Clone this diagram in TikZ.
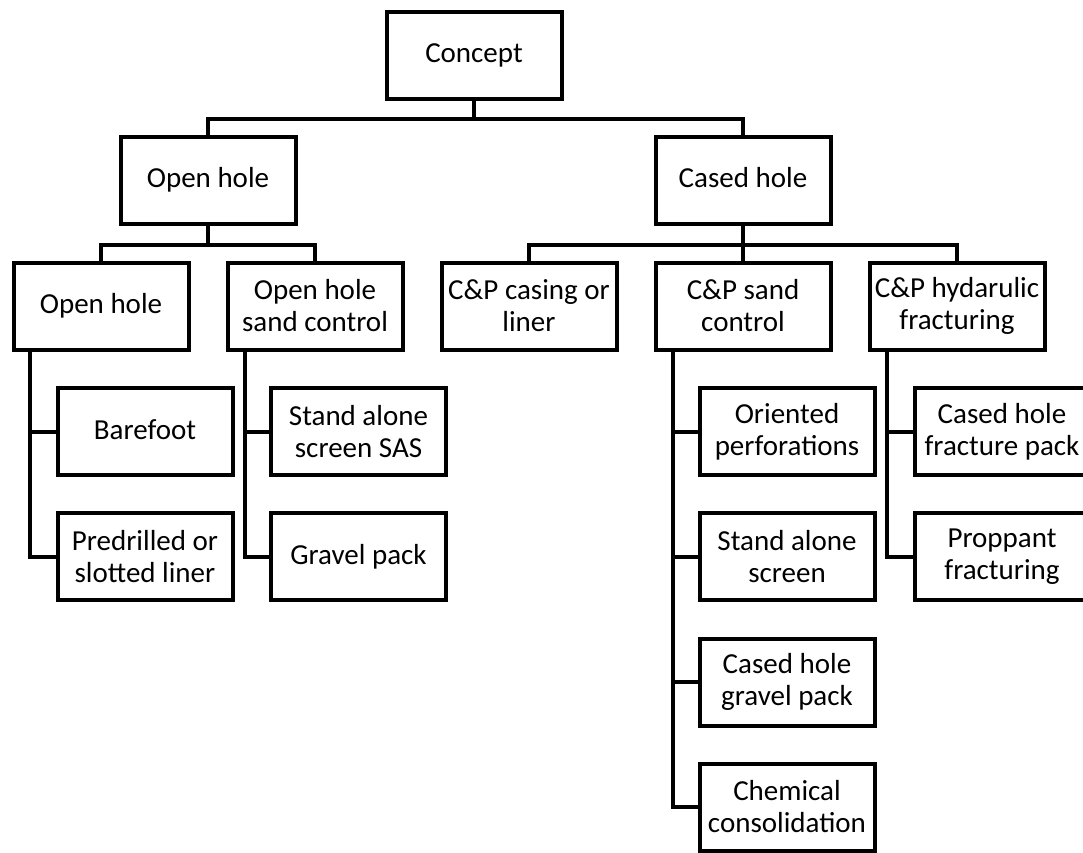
\documentclass[tikz,border=0pt]{standalone}
\usepackage{fontspec}
\setmainfont{Carlito}
\newcommand{\evenup}{\vphantom{Ohp}}
\begin{document}
\begin{tikzpicture}[x=1pt,y=-1pt,
  box/.style={draw, line width=4pt, minimum width=175pt, minimum height=87pt,
    inner sep=0pt, align=center, font=\fontsize{29}{32}\selectfont},
  conn/.style={line width=4pt}]
\clip (0,0) rectangle (1083,852);
\fill[white] (0,0) rectangle (1083,852);
% level 0 and 1
\node[box] (concept) at (474,55) {\evenup Concept};
\node[box] (oh1) at (208,180) {\evenup Open hole};
\node[box] (ch1) at (743,180) {\evenup Cased hole};
% level 2
\node[box] (oh2) at (101,306) {\evenup Open hole};
\node[box] (ohsc) at (315,306) {Open hole\\sand control};
\node[box] (cpcl) at (529,306) {C\&P casing or\\liner};
\node[box] (cpsc) at (743,306) {C\&P sand\\control};
\node[box] (cphf) at (957,306) {C\&P hydarulic\\fracturing};
% level 3
\node[box] (bare) at (145,431.5) {\evenup Barefoot};
\node[box] (pred) at (145,556.5) {Predrilled or\\slotted liner};
\node[box] (sas) at (358.5,431.5) {Stand alone\\screen SAS};
\node[box] (gp) at (358.5,556.5) {\evenup Gravel pack};
\node[box] (op) at (787,431.5) {Oriented\\perforations};
\node[box] (sa) at (787,556.5) {Stand alone\\screen};
\node[box] (chgp) at (787,682) {Cased hole\\gravel pack};
\node[box] (cc) at (787,807) {Chemical\\consolidation};
\node[box] (chfp) at (1002,431.5) {Cased hole\\fracture pack};
\node[box] (pf) at (1002,556.5) {Proppant\\fracturing};
% connectors
\draw[conn] (concept.south) -- ++(0,18) coordinate (b0) -| (oh1.north);
\draw[conn] (b0) -| (ch1.north);
\draw[conn] (oh1.south) -- ++(0,19) coordinate (b1) -| (oh2.north);
\draw[conn] (b1) -| (ohsc.north);
\draw[conn] (ch1.south) -- ++(0,19) coordinate (b2) -| (cpcl.north);
\draw[conn] (b2) -| (cpsc.north);
\draw[conn] (b2) -| (cphf.north);
\draw[conn] ([xshift=-71pt]oh2.south) |- (bare.west);
\draw[conn] ([xshift=-71pt]oh2.south) |- (pred.west);
\draw[conn] ([xshift=-70pt]ohsc.south) |- (sas.west);
\draw[conn] ([xshift=-70pt]ohsc.south) |- (gp.west);
\draw[conn] ([xshift=-70pt]cpsc.south) |- (op.west);
\draw[conn] ([xshift=-70pt]cpsc.south) |- (sa.west);
\draw[conn] ([xshift=-70pt]cpsc.south) |- (chgp.west);
\draw[conn] ([xshift=-70pt]cpsc.south) |- (cc.west);
\draw[conn] ([xshift=-70pt]cphf.south) |- (chfp.west);
\draw[conn] ([xshift=-70pt]cphf.south) |- (pf.west);
\end{tikzpicture}
\end{document}
